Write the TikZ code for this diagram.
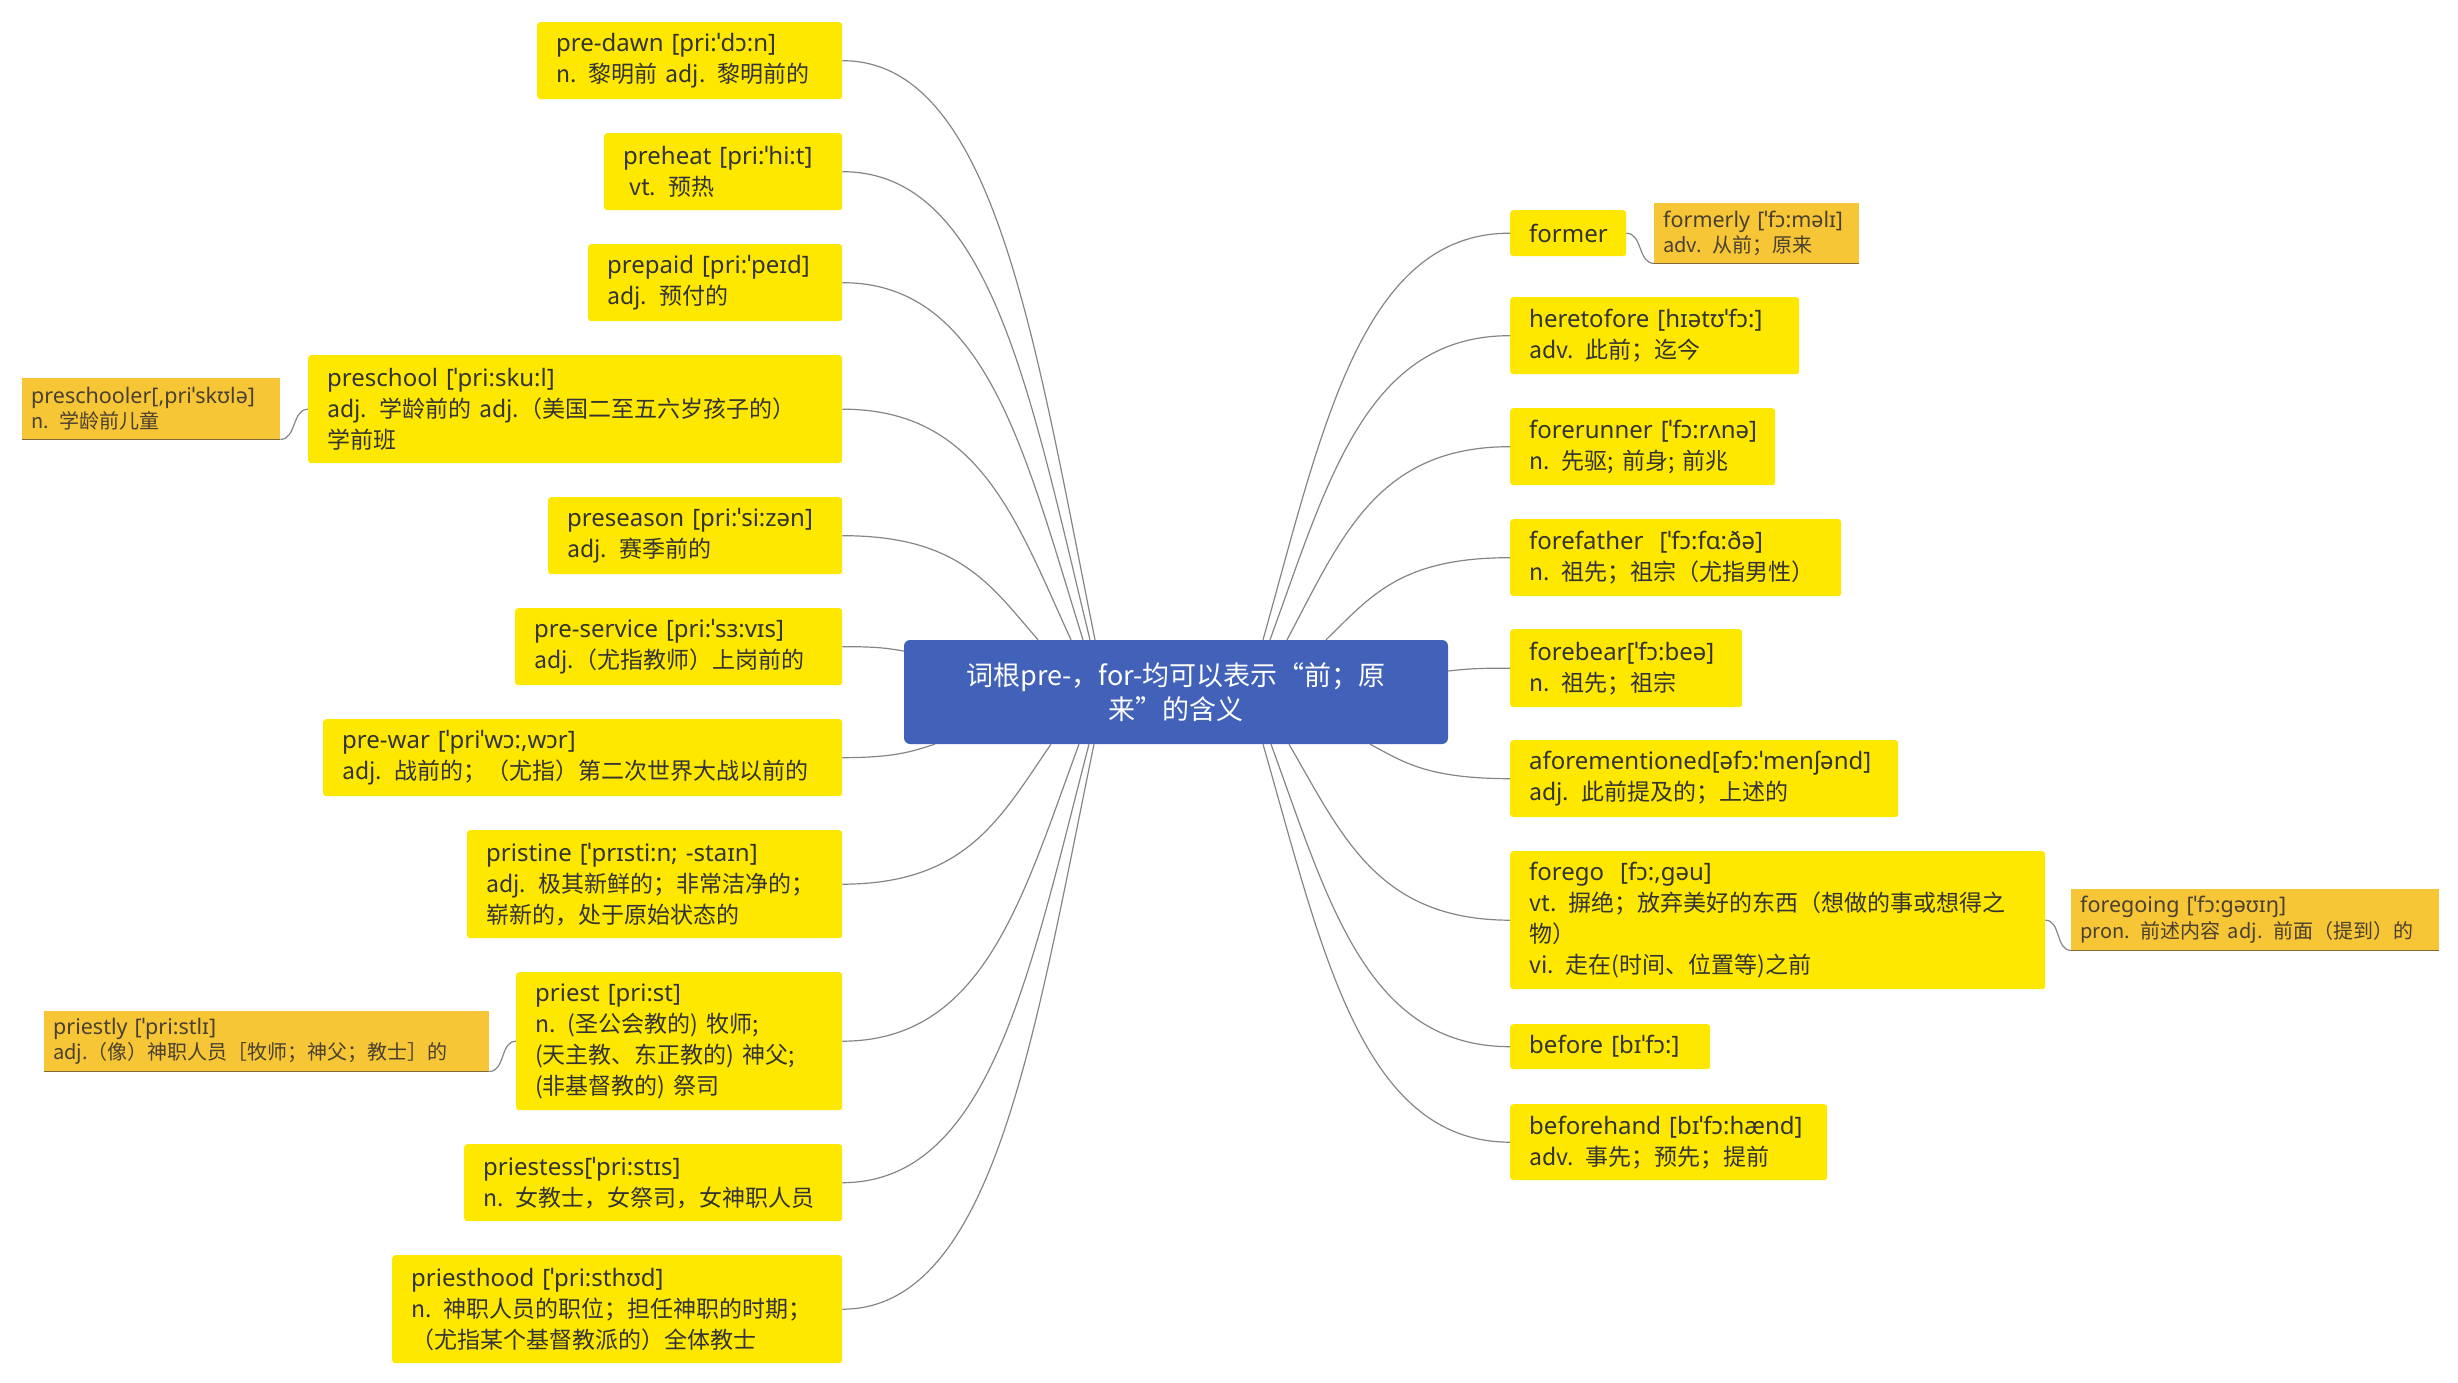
\documentclass[tikz,border=0pt]{standalone}
\usepackage{fontspec}
\setmainfont{Noto Sans}
\newfontfamily\cj{Noto Sans CJK SC}
\newcommand\cz{\cj\fontsize{23}{31}\selectfont}
\newcommand\co{\cj\fontsize{20}{25.5}\selectfont}
\definecolor{ybg}{HTML}{FFE800}
\definecolor{obg}{HTML}{F6C637}
\definecolor{cblue}{HTML}{4261B8}
\definecolor{txt}{HTML}{333333}
\definecolor{otxt}{HTML}{4A4030}
\definecolor{uline}{HTML}{7D6B3A}
\definecolor{lnk}{HTML}{858585}
\tikzset{
  ybox/.style={fill=ybg, rounded corners=3pt, inner xsep=19pt, inner ysep=0pt, align=left, text=txt, anchor=north west, font=\fontsize{24}{31}\selectfont},
  obox/.style={fill=obg, inner xsep=9pt, inner ysep=0pt, align=left, text=otxt, anchor=north west, font=\fontsize{21.5}{25.5}\selectfont},
  cnode/.style={fill=cblue, rounded corners=6pt, text=white, align=center, font=\cj\fontsize{27}{34}\selectfont},
  conn/.style={draw=lnk, line width=1.2pt},
  ulinestyle/.style={draw=uline, line width=1.5pt},
}
% yellow box: name x1 y1 x2 y2 text
\newcommand\ybx[6]{%
  \edef\bxw{\the\numexpr#4-#2\relax pt}%
  \edef\bxh{\the\numexpr#5-#3\relax pt}%
  \edef\bxt{\the\numexpr#4-#2-38\relax pt}%
  \node[ybox, minimum width=\bxw, minimum height=\bxh, text width=\bxt] (#1) at (#2,#3) {#6};}
\newcommand\obx[6]{%
  \edef\bxw{\the\numexpr#4-#2\relax pt}%
  \edef\bxh{\the\numexpr#5-#3\relax pt}%
  \edef\bxt{\the\numexpr#4-#2-18\relax pt}%
  \node[obox, minimum width=\bxw, minimum height=\bxh, text width=\bxt] (#1) at (#2,#3) {#6};
  \draw[ulinestyle] (#1.south west) -- (#1.south east);}
% connector: start-anchor sx sy target-anchor tx ty
\newcommand\conn[6]{\draw[conn] (#1) .. controls ({#2-0.24*(#2-#5)},{#3-0.52*(#3-#6)}) and ({#5+0.6*(#2-#5)},{#6}) .. (#4);}
\begin{document}
\begin{tikzpicture}[x=1pt,y=-1pt]
\useasboundingbox (0,0) rectangle (2458,1383);

% left side
\ybx{predawn}{537}{22}{842}{99}{\mbox{pre-dawn [pri:ˈdɔ:n]}\\\cz n. 黎明前 adj. 黎明前的}
\ybx{preheat}{604}{133}{842}{210}{\mbox{preheat [pri:ˈhi:t]}\\\cz\hspace*{6pt}vt. 预热}
\ybx{prepaid}{588}{244}{842}{321}{\mbox{prepaid [pri:ˈpeɪd]}\\\cz adj. 预付的}
\ybx{preschool}{308}{355}{842}{463}{\mbox{preschool [ˈpri:sku:l]}\\\cz adj. 学龄前的 adj.（美国二至五六岁孩子的）\\学前班}
\ybx{preseason}{548}{497}{842}{574}{\mbox{preseason [pri:ˈsi:zən]}\\\cz adj. 赛季前的}
\ybx{preservice}{515}{608}{842}{685}{\mbox{pre-service [pri:ˈsɜ:vɪs]}\\\cz adj.（尤指教师）上岗前的}
\ybx{prewar}{323}{719}{842}{796}{\mbox{pre-war [ˈpriˈwɔ:,wɔr]}\\\cz adj. 战前的；（尤指）第二次世界大战以前的}
\ybx{pristine}{467}{830}{842}{938}{\mbox{pristine [ˈprɪsti:n; -staɪn]}\\\cz adj. 极其新鲜的；非常洁净的；\\崭新的，处于原始状态的}
\ybx{priest}{516}{972}{842}{1110}{\mbox{priest [pri:st]}\\\cz n. (圣公会教的) 牧师;\\(天主教、东正教的) 神父;\\(非基督教的) 祭司}
\ybx{priestess}{464}{1144}{842}{1221}{\mbox{priestess[ˈpri:stɪs]}\\\cz n. 女教士，女祭司，女神职人员}
\ybx{priesthood}{392}{1255}{842}{1363}{\mbox{priesthood [ˈpri:sthʊd]}\\\cz n. 神职人员的职位；担任神职的时期；\\（尤指某个基督教派的）全体教士}

\obx{preschooler}{22}{378}{280}{439}{\mbox{preschooler[,priˈskʊlə]}\\\co n. 学龄前儿童}
\obx{priestly}{44}{1011}{489}{1071}{\mbox{priestly [ˈpri:stlɪ]}\\\co adj.（像）神职人员［牧师；神父；教士］的}

% right side
\ybx{former}{1510}{210}{1626}{256}{\mbox{former}}
\ybx{heretofore}{1510}{297}{1799}{374}{\mbox{heretofore [hɪətʊˈfɔ:]}\\\cz adv. 此前；迄今}
\ybx{forerunner}{1510}{408}{1775}{485}{\mbox{forerunner [ˈfɔ:rʌnə]}\\\cz n. 先驱; 前身; 前兆}
\ybx{forefather}{1510}{519}{1841}{596}{\mbox{forefather\ \ [ˈfɔ:fɑ:ðə]}\\\cz n. 祖先；祖宗（尤指男性）}
\ybx{forebear}{1510}{629}{1742}{707}{\mbox{forebear[ˈfɔ:beə]}\\\cz n. 祖先；祖宗}
\ybx{aforementioned}{1510}{740}{1898}{817}{\mbox{aforementioned[əfɔ:ˈmenʃənd]}\\\cz adj. 此前提及的；上述的}
\ybx{forego}{1510}{851}{2045}{989}{\mbox{forego\ \ [fɔ:,gəu]}\\\cz vt. 摒绝；放弃美好的东西（想做的事或想得之\\物）\\vi. 走在(时间、位置等)之前}
\ybx{before}{1510}{1024}{1710}{1069}{\mbox{before [bɪˈfɔ:]}}
\ybx{beforehand}{1510}{1104}{1827}{1180}{\mbox{beforehand [bɪˈfɔ:hænd]}\\\cz adv. 事先；预先；提前}

\obx{formerly}{1654}{203}{1859}{263}{\mbox{formerly [ˈfɔ:məlɪ]}\\\co adv. 从前；原来}
\obx{foregoing}{2071}{889}{2439}{950}{\mbox{foregoing [ˈfɔ:gəʊɪŋ]}\\\co pron. 前述内容 adj. 前面（提到）的}

% centre
\node[cnode, minimum width=544pt, minimum height=104pt] (c) at (1176,692) {词根pre-，for-均可以表示“前；原\\来”的含义};

% connectors left
\conn{[xshift=-81pt]c.north}{1095}{640}{predawn.east}{842}{60.5}
\conn{[xshift=-86pt]c.north}{1090}{640}{preheat.east}{842}{171.5}
\conn{[xshift=-93pt]c.north}{1083}{640}{prepaid.east}{842}{282.5}
\conn{[xshift=-105pt]c.north}{1071}{640}{preschool.east}{842}{409}
\conn{[xshift=-138pt]c.north}{1038}{640}{preseason.east}{842}{535.5}
\conn{[yshift=41pt]c.west}{904}{651}{preservice.east}{842}{646.5}
\conn{[xshift=-241pt]c.south}{935}{744}{prewar.east}{842}{757.5}
\conn{[xshift=-125pt]c.south}{1051}{744}{pristine.east}{842}{884}
\conn{[xshift=-97pt]c.south}{1079}{744}{priest.east}{842}{1041}
\conn{[xshift=-87pt]c.south}{1089}{744}{priestess.east}{842}{1182.5}
\conn{[xshift=-82pt]c.south}{1094}{744}{priesthood.east}{842}{1309}

% connectors right
\conn{[xshift=87pt]c.north}{1263}{640}{former.west}{1510}{233}
\conn{[xshift=94pt]c.north}{1270}{640}{heretofore.west}{1510}{335.5}
\conn{[xshift=111pt]c.north}{1287}{640}{forerunner.west}{1510}{446.5}
\conn{[xshift=150pt]c.north}{1326}{640}{forefather.west}{1510}{557.5}
\conn{[yshift=21pt]c.east}{1448}{671}{forebear.west}{1510}{668}
\conn{[xshift=194pt]c.south}{1370}{744}{aforementioned.west}{1510}{778.5}
\conn{[xshift=113pt]c.south}{1289}{744}{forego.west}{1510}{920}
\conn{[xshift=95pt]c.south}{1271}{744}{before.west}{1510}{1046.5}
\conn{[xshift=87pt]c.south}{1263}{744}{beforehand.west}{1510}{1142}

% child connectors
\draw[conn] (preschool.west) to[out=180,in=0] (preschooler.south east);
\draw[conn] (priest.west) to[out=180,in=0] (priestly.south east);
\draw[conn] (former.east) to[out=0,in=180] (formerly.south west);
\draw[conn] (forego.east) to[out=0,in=180] (foregoing.south west);
\end{tikzpicture}
\end{document}
